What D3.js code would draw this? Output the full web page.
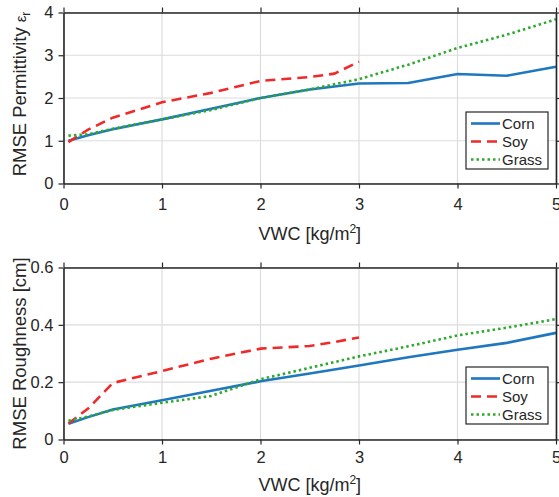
<!DOCTYPE html>
<html>
<head>
<meta charset="utf-8">
<script src="https://cdn.jsdelivr.net/npm/d3@7"></script>
<style>
  body { margin: 0; background: #fff; }
  svg text { font-family: "Liberation Sans", Arial, sans-serif; fill: #262626; }
</style>
</head>
<body>
<svg id="chart" width="559" height="497"></svg>
<script>
// shared VWC samples for corn and grass, soy stops at 3
const vwc = [0.05, 0.25, 0.5, 1, 1.5, 2, 2.5, 3, 3.5, 4, 4.5, 5];
const vwcSoy = [0.05, 0.25, 0.5, 1, 1.5, 2, 2.5, 2.75, 3];

const permCorn = [1.0, 1.13, 1.27, 1.5, 1.75, 2.0, 2.2, 2.34, 2.35, 2.56, 2.52, 2.73];
const permSoy = [0.97, 1.26, 1.54, 1.9, 2.12, 2.4, 2.49, 2.57, 2.85];
const permGrass = [1.12, 1.15, 1.28, 1.5, 1.72, 2.0, 2.2, 2.44, 2.78, 3.17, 3.48, 3.84];

const roughCorn = [0.055, 0.078, 0.105, 0.137, 0.17, 0.203, 0.23, 0.258, 0.287, 0.313, 0.337, 0.372];
const roughSoy = [0.056, 0.108, 0.197, 0.239, 0.282, 0.317, 0.326, 0.34, 0.356];
const roughGrass = [0.065, 0.08, 0.103, 0.128, 0.152, 0.21, 0.25, 0.29, 0.325, 0.363, 0.39, 0.42];

const xTicks = [0, 1, 2, 3, 4, 5];
const permTicks = [0, 1, 2, 3, 4];
const roughTicks = [0, 0.2, 0.4, 0.6];
const seriesNames = ['Corn', 'Soy', 'Grass'];

const styles = {
  Corn: { color: '#1f77c0', dash: null },
  Soy: { color: '#ee2a2a', dash: '10,6' },
  Grass: { color: '#2fa82f', dash: '2.5,3' }
};

const svg = d3.select('#chart');
const left = 63.5, right = 556;

function panel (top, bottom, yMax, yTicks, yFmt, yLabel, data, legendTop, pad, xlOff) {
  const x = d3.scaleLinear().domain([0, 5]).range([left, right]);
  const y = d3.scaleLinear().domain([0, yMax]).range([bottom, top]);
  const g = svg.append('g');

  // grid
  g.selectAll('.gx').data(xTicks).enter().append('line')
    .attr('x1', d => x(d)).attr('x2', d => x(d))
    .attr('y1', top).attr('y2', bottom)
    .attr('stroke', '#dcdcdc').attr('stroke-width', 1.2);
  g.selectAll('.gy').data(yTicks).enter().append('line')
    .attr('x1', left).attr('x2', right)
    .attr('y1', d => y(d)).attr('y2', d => y(d))
    .attr('stroke', '#dcdcdc').attr('stroke-width', 1.2);

  // series
  const line = d3.line().x(d => x(d[0])).y(d => y(d[1]));
  for (const s of data) {
    const st = styles[s.name];
    g.append('path')
      .datum(d3.zip(s.x, s.y))
      .attr('d', line)
      .attr('fill', 'none')
      .attr('stroke', st.color)
      .attr('stroke-width', 2.6)
      .attr('stroke-dasharray', st.dash);
  }

  // axes, ticks out on all sides
  const mk = (axis, tr) => g.append('g').attr('transform', tr).call(axis)
    .call(a => a.select('.domain').attr('stroke', '#262626').attr('stroke-width', 1.6))
    .call(a => a.selectAll('.tick line').attr('stroke', '#262626').attr('stroke-width', 1.2))
    .call(a => a.selectAll('.tick text').attr('font-size', 16.5).attr('fill', '#262626'));

  mk(d3.axisBottom(x).tickValues(xTicks).tickSize(5).tickSizeOuter(0).tickPadding(pad).tickFormat(d3.format('d')), `translate(0,${bottom})`);
  mk(d3.axisTop(x).tickValues(xTicks).tickSize(5).tickSizeOuter(0).tickFormat(() => ''), `translate(0,${top})`);
  mk(d3.axisLeft(y).tickValues(yTicks).tickSize(5).tickSizeOuter(0).tickPadding(5).tickFormat(yFmt), `translate(${left},0)`);
  mk(d3.axisRight(y).tickValues(yTicks).tickSize(5).tickSizeOuter(0).tickFormat(() => ''), `translate(${right},0)`);

  // x label
  const xl = g.append('text')
    .attr('x', (left + right) / 2).attr('y', bottom + xlOff)
    .attr('text-anchor', 'middle').attr('font-size', 18);
  xl.append('tspan').text('VWC [kg/m');
  xl.append('tspan').attr('font-size', 12).attr('dy', -7).text('2');
  xl.append('tspan').attr('dy', 7).text(']');

  // y label
  const yl = g.append('text')
    .attr('transform', `translate(25.5,${(top + bottom) / 2 + yLabel.shift}) rotate(-90)`)
    .attr('text-anchor', 'middle').attr('font-size', 18.5);
  yl.append('tspan').text(yLabel.text);
  if (yLabel.sym) {
    yl.append('tspan').attr('dx', 5).attr('font-size', 15).text(yLabel.sym);
    yl.append('tspan').attr('font-size', 12).attr('dy', 4).text(yLabel.sub);
  }

  // legend
  const lg = g.append('g').attr('transform', `translate(466,${legendTop})`);
  lg.append('rect').attr('width', 82).attr('height', 57)
    .attr('fill', '#fff').attr('stroke', '#262626').attr('stroke-width', 1.2);
  seriesNames.forEach((n, i) => {
    const yy = 11.5 + i * 18;
    const st = styles[n];
    lg.append('line').attr('x1', 5).attr('x2', 34).attr('y1', yy).attr('y2', yy)
      .attr('stroke', st.color).attr('stroke-width', 2.6).attr('stroke-dasharray', st.dash);
    lg.append('text').attr('x', 36).attr('y', yy + 5.5).attr('font-size', 15).text(n);
  });
}

panel(12.5, 183.5, 4, permTicks, d3.format('d'),
  { text: 'RMSE Permittivity', sym: 'ε', sub: 'r', shift: -4 },
  [
    { name: 'Corn', x: vwc, y: permCorn },
    { name: 'Soy', x: vwcSoy, y: permSoy },
    { name: 'Grass', x: vwc, y: permGrass }
  ], 112, 10, 56);

panel(267.5, 439.5, 0.6, roughTicks, d => (d === 0 ? '0' : d3.format('.1f')(d)),
  { text: 'RMSE Roughness [cm]', shift: 0 },
  [
    { name: 'Corn', x: vwc, y: roughCorn },
    { name: 'Soy', x: vwcSoy, y: roughSoy },
    { name: 'Grass', x: vwc, y: roughGrass }
  ], 367, 7, 51);
</script>
</body>
</html>
